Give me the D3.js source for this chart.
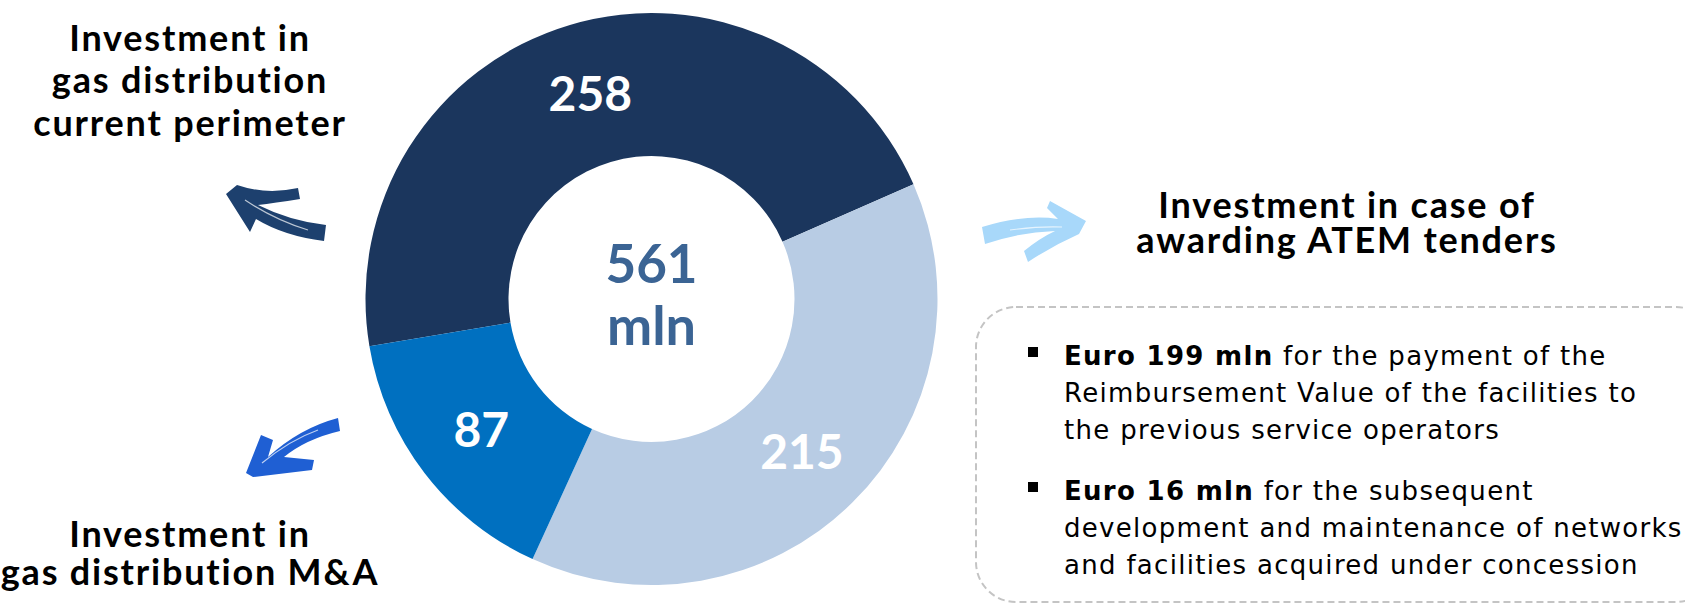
<!DOCTYPE html>
<html>
<head>
<meta charset="utf-8">
<script src="https://cdn.jsdelivr.net/npm/d3@7"></script>
<style>
  html, body { margin: 0; padding: 0; background: #fff; }
  svg { display: block; }
</style>
</head>
<body>
<svg id="chart" width="1685" height="604"></svg>
<script>
// data
const segments = ["Gas distribution current perimeter", "ATEM tenders", "Gas distribution M&A"];
const values = [258, 215, 87];
const totalLabel = 561;   // total as printed on the slide (rounded)
const totalUnit = "mln";

const leftTop = ["Investment in", "gas distribution", "current perimeter"];
const leftBottom = ["Investment in", "gas distribution M&A"];
const rightHead = ["Investment in case of", "awarding ATEM tenders"];
const bullets = [
    {bold: "Euro 199 mln", lines: [" for the payment of the", "Reimbursement Value of the facilities to", "the previous service operators"]},
    {bold: "Euro 16 mln", lines: [" for the subsequent", "development and maintenance of networks", "and facilities acquired under concession"]}
];

const segColors = ["#1b365d", "#b8cce4", "#0070c0"];

const svg = d3.select("#chart");
const cx = 651.5, cy = 299;
const outerR = 286, innerR = 143;
const start = -99.5 * Math.PI / 180;

const pie = d3.pie().sort(null).startAngle(start).endAngle(start + 2 * Math.PI);
const arc = d3.arc().innerRadius(innerR).outerRadius(outerR);

const donut = svg.append("g").attr("transform", `translate(${cx},${cy})`);
const arcs = pie(values);

donut.selectAll("path.slice")
    .data(arcs).enter()
    .append("path")
    .attr("class", "slice")
    .attr("d", arc)
    .attr("fill", (d, i) => segColors[i]);

donut.selectAll("text.val")
    .data(arcs).enter()
    .append("text")
    .attr("class", "val")
    .attr("x", d => arc.centroid(d)[0])
    .attr("y", d => arc.centroid(d)[1])
    .attr("dy", "0.36em")
    .attr("text-anchor", "middle")
    .style("font-family", "Lato, 'DejaVu Sans', sans-serif")
    .style("font-weight", 700)
    .style("font-size", "48px")
    .style("fill", "#fff")
    .text(d => d.data);

donut.append("text")
    .attr("y", -16)
    .attr("text-anchor", "middle")
    .style("font-family", "Lato, 'DejaVu Sans', sans-serif")
    .style("font-weight", 700)
    .style("font-size", "53px")
    .style("fill", "#3b6494")
    .text(totalLabel);
donut.append("text")
    .attr("y", 46)
    .attr("text-anchor", "middle")
    .style("font-family", "Lato, 'DejaVu Sans', sans-serif")
    .style("font-weight", 700)
    .style("font-size", "54px")
    .style("fill", "#3b6494")
    .text(totalUnit);

// headings
function heading(lines, x, ys) {
    svg.append("g").selectAll("text")
        .data(lines).enter()
        .append("text")
        .attr("x", x)
        .attr("y", (d, i) => ys[i])
        .attr("text-anchor", "middle")
        .style("font-family", "Lato, 'DejaVu Sans', sans-serif")
        .style("font-weight", 700)
        .style("font-size", "36px")
        .style("letter-spacing", "1.8px")
        .style("fill", "#000")
        .text(d => d);
}
heading(leftTop, 190, [51, 93, 136]);
heading(leftBottom, 190, [547, 585]);
heading(rightHead, 1347, [218, 253]);

// brush arrows
const arrows = [
    {fill: "#1d406e", d: "M226,194 L237,185 Q266,195 298,188 L300,199 Q274,203 258,205 Q290,221 326,225 L324,241 Q284,236 256,219 L250,232 Z",
     streak: "M245,200 Q275,220 308,230"},
    {fill: "#1f5fd3", d: "M246,473 L261,435 L273,440 L268,457 Q300,428 338,418 L340,431 Q306,439 284,457 L314,460 L312,470 L253,477 Z",
     streak: "M262,463 Q290,440 318,430"},
    {fill: "#a8d8fa", d: "M982,227 Q1025,214 1058,219 L1047,208 L1050,201 L1086,221 L1079,234 Q1052,246 1028,262 L1024,251 Q1040,238 1055,231 Q1020,232 985,244 Z",
     streak: "M1010,230 Q1040,226 1062,227"}
];
const ag = svg.append("g");
arrows.forEach(a => {
    ag.append("path").attr("d", a.d).attr("fill", a.fill);
    ag.append("path").attr("d", a.streak).attr("fill", "none")
        .attr("stroke", "#fff").attr("stroke-width", 1.2).attr("stroke-opacity", 0.7);
});

// dashed box
svg.append("rect")
    .attr("x", 976).attr("y", 307)
    .attr("width", 740).attr("height", 295)
    .attr("rx", 40).attr("ry", 40)
    .attr("fill", "none")
    .attr("stroke", "#c4c4c4")
    .attr("stroke-width", 2)
    .attr("stroke-dasharray", "7,4");

const bulletY = [365, 500];
const lineGap = 37;
const bx = 1064;
const bodyFont = {family: "'DejaVu Sans', sans-serif", size: "26px", spacing: "1.3px"};
bullets.forEach((b, i) => {
    const y0 = bulletY[i];
    svg.append("rect")
        .attr("x", 1028).attr("y", y0 - 18)
        .attr("width", 10).attr("height", 10)
        .attr("fill", "#000");
    const t = svg.append("text")
        .attr("x", bx).attr("y", y0)
        .style("font-family", bodyFont.family)
        .style("font-size", bodyFont.size)
        .style("letter-spacing", bodyFont.spacing)
        .style("fill", "#000");
    t.append("tspan").style("font-weight", 700).text(b.bold);
    t.append("tspan").text(b.lines[0]);
    b.lines.slice(1).forEach((l, j) => {
        svg.append("text")
            .attr("x", bx).attr("y", y0 + lineGap * (j + 1))
            .style("font-family", bodyFont.family)
            .style("font-size", bodyFont.size)
            .style("letter-spacing", bodyFont.spacing)
            .style("fill", "#000")
            .text(l);
    });
});
</script>
</body>
</html>
